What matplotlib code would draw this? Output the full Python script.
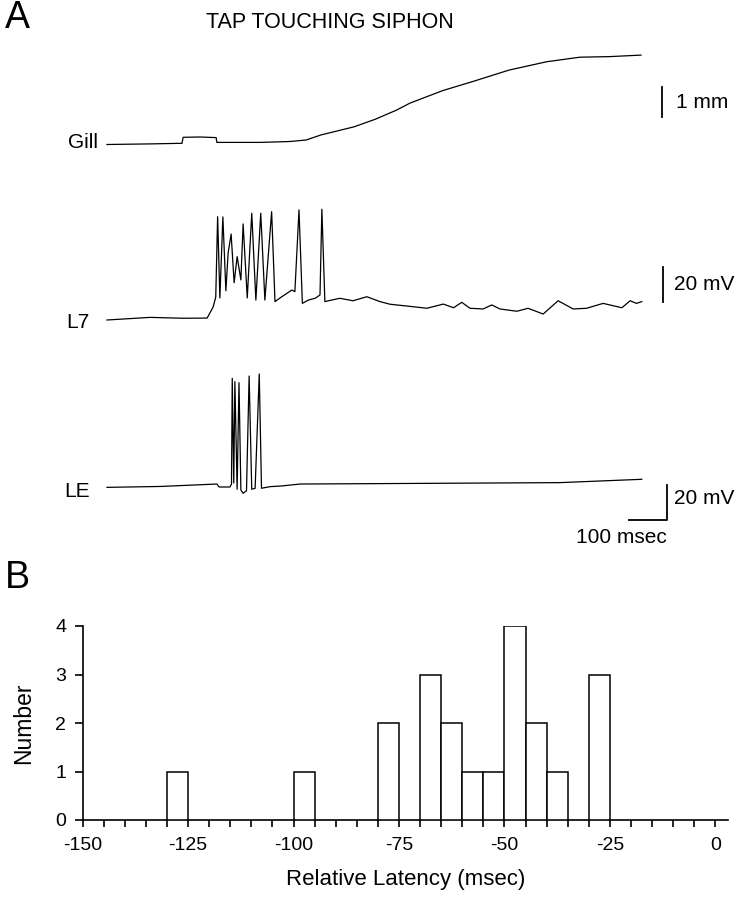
import matplotlib.pyplot as plt

plt.rcParams['font.family'] = ['Liberation Sans', 'DejaVu Sans']
plt.rcParams['axes.unicode_minus'] = False

# ---- panel A traces (time in ms from start of sweep) ----
gill_t = [0, 115, 200, 203, 248, 291, 293, 408, 488, 531, 571, 659, 715, 771, 808,
          896, 973, 1072, 1173, 1261, 1341, 1424]
gill_mm = [0.00, 0.02, 0.04, 0.24, 0.25, 0.23, 0.07, 0.07, 0.10, 0.15, 0.32, 0.59,
           0.84, 1.14, 1.38, 1.80, 2.09, 2.48, 2.76, 2.91, 2.93, 2.98]

l7_t = [0, 115, 203, 267, 283, 290, 295, 301, 309, 317, 323, 331, 339, 347, 357, 363,
        374, 386, 397, 410, 421, 439, 448, 466, 493, 501, 512, 521, 537, 555, 568, 573,
        581, 599, 621, 656, 693, 728, 755, 799, 853, 897, 924, 946, 968, 1003, 1026,
        1048, 1093, 1123, 1163, 1203, 1243, 1279, 1323, 1373, 1395, 1412, 1426]
l7_mv = [0.0, 1.5, 1.0, 1.1, 7.4, 13.1, 59.0, 12.6, 58.9, 16.7, 38.3, 49.1, 21.3, 36.2,
         22.9, 54.9, 12.6, 61.0, 11.4, 61.0, 11.4, 61.9, 10.5, 13.3, 17.1, 16.2, 62.9,
         9.5, 11.4, 12.4, 14.3, 63.3, 10.5, 11.4, 12.4, 11.0, 13.3, 10.5, 9.0, 8.0, 6.7,
         9.1, 7.0, 10.1, 6.7, 6.3, 8.6, 6.3, 5.0, 6.7, 3.4, 11.0, 6.3, 6.7, 9.5, 7.0,
         11.0, 9.5, 10.5]

le_t = [0, 141, 293, 299, 328, 332, 334, 338, 341, 347, 352, 357, 363, 372, 379, 386,
        395, 406, 412, 435, 466, 515, 781, 1208, 1426]
le_mv = [-0.2, 0.3, 1.7, 0.0, 0.0, 1.7, 62.1, 2.3, 60.2, -1.3, 59.6, -1.7, -3.6, -2.1,
         63.4, -1.3, -0.7, 64.6, -0.7, 0.2, 0.6, 1.7, 2.0, 2.5, 4.4]

# ---- panel B histogram ----
bin_left = [-130, -100, -80, -70, -65, -60, -55, -50, -45, -40, -30]
counts = [1, 1, 2, 3, 2, 1, 1, 4, 2, 1, 3]
bin_width = 5

W, H = 738, 900
fig = plt.figure(figsize=(W / 100, H / 100), dpi=100)

# sweep starts at x=107 px, 100 ms = 37.5 px
px_per_ms = 0.375
x0 = 107
xlim = (-x0 / px_per_ms, (W - x0) / px_per_ms)


def trace_axes(top, bottom, base, px_per_unit):
    ax = fig.add_axes([0, 1 - bottom / H, 1, (bottom - top) / H])
    ax.set_xlim(*xlim)
    ax.set_ylim((base - bottom) / px_per_unit, (base - top) / px_per_unit)
    ax.axis('off')
    return ax


lw = 0.9
fs = 15

ax_g = trace_axes(30, 165, 144.5, 30)
ax_g.plot(gill_t, gill_mm, color='black', lw=lw)
ax_g.text(-24, 0.05, 'Gill', ha='right', va='center', fontsize=fs)
ax_g.plot([1480, 1480], [0.92, 1.92], color='black', lw=1.3)
ax_g.text(1517, 1.40, '1 mm', ha='left', va='center', fontsize=fs)

ax_l7 = trace_axes(190, 340, 320, 1.75)
ax_l7.plot(l7_t, l7_mv, color='black', lw=lw)
ax_l7.text(-48, -1.2, 'L7', ha='right', va='center', fontsize=fs)
ax_l7.plot([1482, 1482], [10.3, 30.3], color='black', lw=1.3)
ax_l7.text(1512, 20.0, '20 mV', ha='left', va='center', fontsize=fs)

ax_le = trace_axes(355, 555, 487, 1.75)
ax_le.plot(le_t, le_mv, color='black', lw=lw)
ax_le.text(-45, -2.5, 'LE', ha='right', va='center', fontsize=fs)
ax_le.plot([1392, 1492, 1492], [-19, -19, 1], color='black', lw=1.3)
ax_le.text(1512, -6.5, '20 mV', ha='left', va='center', fontsize=fs)
ax_le.text(1493, -28.6, '100 msec', ha='right', va='center', fontsize=fs)

fig.text(5 / W, 1 - 18 / H, 'A', fontsize=27, va='center', ha='left')
fig.text(330 / W, 1 - 22 / H, 'TAP TOUCHING SIPHON', fontsize=15.5, va='center', ha='center')
fig.text(5 / W, 1 - 578 / H, 'B', fontsize=27, va='center', ha='left')

# ---- histogram ----
ax = fig.add_axes([82.7 / W, 1 - 820 / H, (728 - 82.7) / W, (820 - 626) / H])
ax.bar(bin_left, counts, width=bin_width, align='edge', color='white',
       edgecolor='black', linewidth=1.1, zorder=3)
ax.set_xlim(-150, 3)
ax.set_ylim(0, 4)
ax.set_xticks([-150, -125, -100, -75, -50, -25, 0])
ax.set_xticks(range(-145, 0, 5), minor=True)
ax.set_yticks([0, 1, 2, 3, 4])
for s in ['top', 'right']:
    ax.spines[s].set_visible(False)
for s in ['left', 'bottom']:
    ax.spines[s].set_linewidth(1.2)
ax.tick_params(axis='both', which='both', direction='out', width=1.2, labelsize=14)
ax.tick_params(axis='x', which='both', length=5, pad=7)
ax.tick_params(axis='y', length=6, pad=6)
ax.set_xlabel('Relative Latency (msec)', fontsize=16, labelpad=11)
ax.set_ylabel('Number', fontsize=16.5, labelpad=14)

fig.savefig('out.png', dpi=100)
